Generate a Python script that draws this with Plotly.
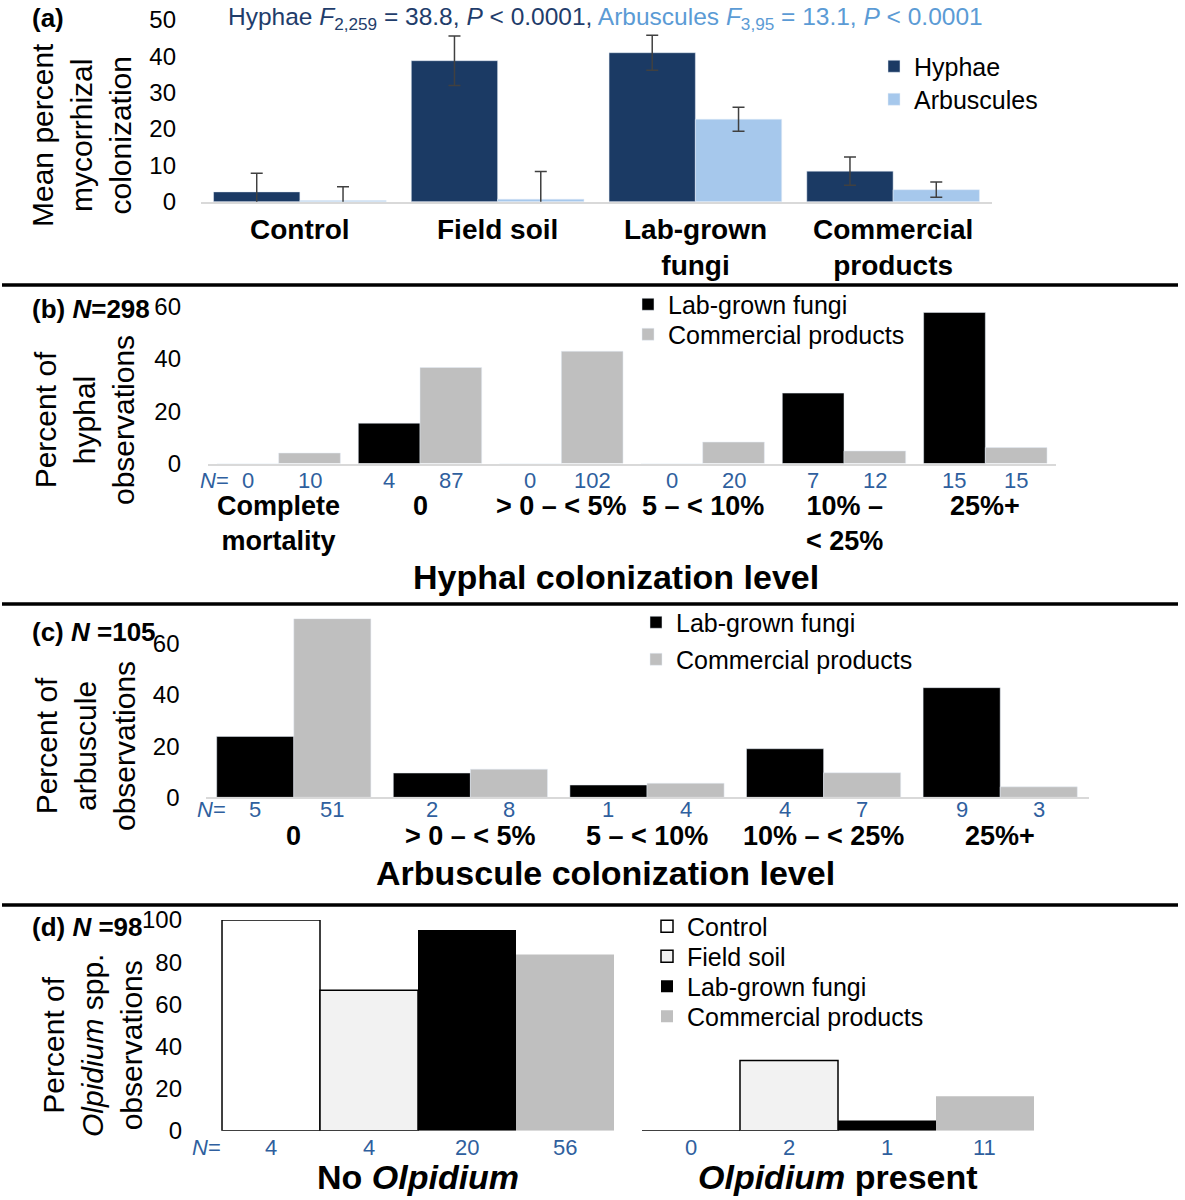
import plotly.graph_objects as go

W, H = 1185, 1200
FONT = "Liberation Sans"

# ---------------- data ----------------
# Panel (a)
a_categories = ["Control", "Field soil", "Lab-grown fungi", "Commercial products"]
a_labels = ["Control", "Field soil", "Lab-grown<br>fungi", "Commercial<br>products"]
a_hyphae = [2.7, 38.8, 41.0, 8.4]
a_hyphae_err = [5.1, 6.8, 4.8, 3.9]
a_arbus = [0.3, 0.7, 22.7, 3.3]
a_arbus_err = [3.8, 7.6, 3.3, 2.1]

# Panel (b)
b_categories = ["Complete mortality", "0", ">0 – <5%", "5 – <10%", "10% – <25%", "25%+"]
b_labels = ["Complete<br>mortality", "0", "&gt; 0 – &lt; 5%", "5 – &lt; 10%", "10% –<br>&lt; 25%", "25%+"]
b_lab = [0, 15.4, 0, 0, 26.9, 57.7]
b_comm = [4.0, 36.7, 42.9, 8.2, 4.8, 6.1]
b_lab_n = [0, 4, 0, 0, 7, 15]
b_comm_n = [10, 87, 102, 20, 12, 15]

# Panel (c)
c_categories = ["0", ">0 – <5%", "5 – <10%", "10% – <25%", "25%+"]
c_labels = ["0", "&gt; 0 – &lt; 5%", "5 – &lt; 10%", "10% – &lt; 25%", "25%+"]
c_lab = [23.8, 9.5, 4.8, 19.0, 42.9]
c_comm = [69.9, 11.0, 5.5, 9.6, 4.1]
c_lab_n = [5, 2, 1, 4, 9]
c_comm_n = [51, 8, 4, 7, 3]

# Panel (d)
d_categories = ["No Olpidium", "Olpidium present"]
d_labels = ["No <i>Olpidium</i>", "<i>Olpidium</i> present"]
d_series = ["Control", "Field soil", "Lab-grown fungi", "Commercial products"]
d_control = [100, 0]
d_field = [66.7, 33.3]
d_lab = [95.2, 4.8]
d_comm = [83.6, 16.4]
d_control_n = [4, 0]
d_field_n = [4, 2]
d_lab_n = [20, 1]
d_comm_n = [56, 11]

# ---------------- style ----------------
HYPHAE = "#1b3a64"
ARBUS = "#a6c8ec"
BLACK = "#000000"
GREY = "#bfbfbf"
FIELD = "#f2f2f2"
NBLUE = "#2f5f9e"
TITLE1 = "#1f3d6b"
TITLE2 = "#5b9bd5"
ERR = dict(type="data", color="#404040", thickness=1.5, width=6)
BARGAP = 0.127


def px(p):
    return p / W


def py(p):
    return 1 - p / H


fig = go.Figure()

# Panel (a)
fig.add_trace(go.Bar(x=a_categories, y=a_hyphae, name="Hyphae", marker_color=HYPHAE,
                     error_y=dict(array=a_hyphae_err, **ERR), xaxis="x", yaxis="y", legend="legend"))
fig.add_trace(go.Bar(x=a_categories, y=a_arbus, name="Arbuscules", marker_color=ARBUS,
                     error_y=dict(array=a_arbus_err, **ERR), xaxis="x", yaxis="y", legend="legend2"))
# Panel (b)
fig.add_trace(go.Bar(x=b_categories, y=b_lab, name="Lab-grown fungi", marker_color=BLACK,
                     xaxis="x2", yaxis="y2", legend="legend3"))
fig.add_trace(go.Bar(x=b_categories, y=b_comm, name="Commercial products", marker_color=GREY,
                     xaxis="x2", yaxis="y2", legend="legend4"))
# Panel (c)
fig.add_trace(go.Bar(x=c_categories, y=c_lab, name="Lab-grown fungi", marker_color=BLACK,
                     xaxis="x3", yaxis="y3", legend="legend5"))
fig.add_trace(go.Bar(x=c_categories, y=c_comm, name="Commercial products", marker_color=GREY,
                     xaxis="x3", yaxis="y3", legend="legend6"))
# Panel (d)
d_values = [d_control, d_field, d_lab, d_comm]
d_markers = [dict(color="white", line=dict(color="black", width=1.5)),
             dict(color=FIELD, line=dict(color="black", width=1.5)),
             dict(color=BLACK, line=dict(width=0)),
             dict(color=GREY, line=dict(width=0))]
d_gap = 0.0667
d_w = (1 - d_gap) / 4
for i, (nm, vals, mk) in enumerate(zip(d_series, d_values, d_markers)):
    fig.add_trace(go.Bar(x=d_categories, y=vals, name=nm, marker=mk,
                         width=d_w, offset=-(1 - d_gap) / 2 + i * d_w,
                         xaxis="x4", yaxis="y4", legend="legend%d" % (7 + i)))

for tr in fig.data:
    tr.showlegend = True

tickfont = dict(family=FONT, size=24, color="black")


def xax(d0, d1, anchor, line=True):
    return dict(domain=[px(d0), px(d1)], anchor=anchor, type="category", showticklabels=False,
                showgrid=False, zeroline=False, showline=line, linecolor="#d9d9d9", linewidth=2,
                ticks="", fixedrange=True, automargin=False)


def yax(top, bottom, rng, tickvals, anchor, standoff):
    return dict(domain=[py(bottom), py(top)], anchor=anchor, range=rng, tickvals=tickvals,
                showgrid=False, zeroline=False, showline=False, ticks="", tickfont=tickfont,
                ticklabelstandoff=standoff, automargin=False, fixedrange=True)


fig.update_layout(
    width=W, height=H, margin=dict(l=0, r=0, t=0, b=0, autoexpand=False),
    paper_bgcolor="white", plot_bgcolor="rgba(0,0,0,0)",
    font=dict(family=FONT, color="black"),
    showlegend=True,
    barmode="group", bargap=BARGAP, bargroupgap=0,
    xaxis=xax(201, 992, "y"),
    yaxis=yax(20, 201.7, [0, 50], [0, 10, 20, 30, 40, 50], "x", 24),
    xaxis2=xax(208, 1056, "y2"),
    yaxis2=yax(306.5, 463.5, [0, 60], [0, 20, 40, 60], "x2", 26),
    xaxis3=xax(205.5, 1088.5, "y3"),
    yaxis3=yax(618.4, 797.3, [0, 70], [0, 20, 40, 60], "x3", 25),
    xaxis4=xax(208, 1048, "y4", line=False),
    yaxis4=yax(920, 1130.7, [0, 100], [0, 20, 40, 60, 80, 100], "x4", 25),
)

# one legend box per entry so each entry sits where the reference has it
LF = dict(family=FONT, size=25, color="black")
leg_pos = {
    "legend": (874, 67), "legend2": (874, 100),
    "legend3": (628, 305), "legend4": (628, 335),
    "legend5": (636, 623), "legend6": (636, 660),
    "legend7": (647, 927), "legend8": (647, 957), "legend9": (647, 987), "legend10": (647, 1017),
}
for key, (lx, ly) in leg_pos.items():
    fig.update_layout({key: dict(x=px(lx), y=py(ly - 23.5), xanchor="left", yanchor="top",
                                 bgcolor="rgba(0,0,0,0)", borderwidth=0, itemwidth=30, font=LF,
                                 visible=True)})

ann = []


def A(text, x, y, size, color="black", xref="paper", xanchor="center", yanchor="middle", angle=0):
    ann.append(dict(text=text, x=x if xref != "paper" else px(x), y=py(y), xref=xref, yref="paper",
                    showarrow=False, xanchor=xanchor, yanchor=yanchor, textangle=angle,
                    font=dict(family=FONT, size=size, color=color)))


def top_of(center, fs):
    return center - 0.65 * fs - 1


# Title (a)
A('<span style="color:%s">Hyphae <i>F</i><sub>2,259</sub> = 38.8, <i>P</i> &lt; 0.0001,</span> '
  '<span style="color:%s">Arbuscules <i>F</i><sub>3,95</sub> = 13.1, <i>P</i> &lt; 0.0001</span>'
  % (TITLE1, TITLE2), 606, 18, 24.5)

# Panel labels
A("<b>(a)</b>", 30, 18, 26, xanchor="left")
A("<b>(b) <i>N</i>=298</b>", 30, 309, 26, xanchor="left")
A("<b>(c) <i>N</i> =105</b>", 30, 632, 26, xanchor="left")
A("<b>(d) <i>N</i> =98</b>", 30, 927, 26, xanchor="left")

# Y-axis titles
A("Mean percent<br>mycorrhizal<br>colonization", 81, 135, 30, angle=-90)
A("Percent of<br>hyphal<br>observations", 84, 420, 30, angle=-90)
A("Percent of<br>arbuscule<br>observations", 85, 746, 30, angle=-90)
A("Percent of<br><i>Olpidium</i> spp.<br>observations", 92, 1046, 30, angle=-90)

# Category labels
for i, t in enumerate(a_labels):
    A("<b>%s</b>" % t, i, top_of(231, 28), 28, xref="x", yanchor="top")
for i, t in enumerate(b_labels):
    A("<b>%s</b>" % t, i, top_of(508, 27), 27, xref="x2", yanchor="top")
for i, t in enumerate(c_labels):
    A("<b>%s</b>" % t, i, 836, 27, xref="x3")
for i, t in enumerate(d_labels):
    A("<b>%s</b>" % t, i, 1177, 34, xref="x4")

# Axis titles
A("<b>Hyphal colonization level</b>", 616, 577, 34)
A("<b>Arbuscule colonization level</b>", 605, 873, 34)

# N labels
half = (1 - BARGAP) / 4
A("<i>N</i>=", 214, 480, 22, color=NBLUE)
for i in range(len(b_categories)):
    A(str(b_lab_n[i]), i - half, 480, 22, color=NBLUE, xref="x2")
    A(str(b_comm_n[i]), i + half, 480, 22, color=NBLUE, xref="x2")
A("<i>N</i>=", 211, 809, 22, color=NBLUE)
for i in range(len(c_categories)):
    A(str(c_lab_n[i]), i - half, 809, 22, color=NBLUE, xref="x3")
    A(str(c_comm_n[i]), i + half, 809, 22, color=NBLUE, xref="x3")
A("<i>N</i>=", 206, 1147, 22, color=NBLUE)
d_ns = [d_control_n, d_field_n, d_lab_n, d_comm_n]
for i in range(len(d_categories)):
    for j in range(4):
        pos = i - (1 - d_gap) / 2 + (j + 0.5) * d_w
        A(str(d_ns[j][i]), pos, 1147, 22, color=NBLUE, xref="x4")

fig.update_layout(annotations=ann)

# Separator lines
shapes = []
for yl in [285, 604, 905]:
    shapes.append(dict(type="line", xref="paper", yref="paper", x0=px(2), x1=px(1178),
                       y0=py(yl), y1=py(yl), line=dict(color="black", width=3.5)))
fig.update_layout(shapes=shapes)

fig.write_html("out.html", config={"displayModeBar": False, "staticPlot": True},
               post_script="document.body.style.margin='0px';document.body.style.overflow='hidden';")
